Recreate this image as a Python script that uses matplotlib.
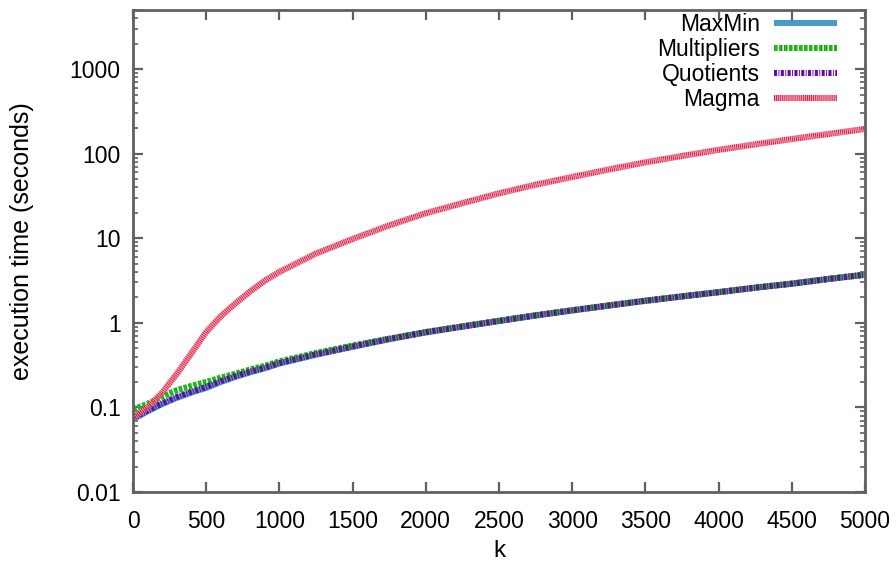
import matplotlib
matplotlib.use("Agg")
import matplotlib.pyplot as plt
from matplotlib.ticker import LogLocator, FixedLocator, NullFormatter

# ---- data ----
k_vals = [0, 100, 200, 300, 400, 500, 600, 700, 800, 900, 1000, 1250, 1500, 1750,
          2000, 2250, 2500, 2750, 3000, 3250, 3500, 3750, 4000, 4250, 4500, 4750, 5000]

maxmin = [0.072, 0.09, 0.11, 0.13, 0.15, 0.17, 0.20, 0.23, 0.26, 0.29, 0.33, 0.42, 0.52, 0.64,
          0.77, 0.90, 1.05, 1.22, 1.40, 1.60, 1.82, 2.05, 2.30, 2.60, 2.90, 3.30, 3.70]
multipliers = [0.095, 0.11, 0.135, 0.16, 0.18, 0.20, 0.225, 0.25, 0.28, 0.31, 0.35, 0.44, 0.54, 0.65,
               0.78, 0.91, 1.06, 1.23, 1.41, 1.61, 1.83, 2.06, 2.31, 2.61, 2.91, 3.31, 3.72]
quotients = [0.075, 0.092, 0.112, 0.133, 0.153, 0.175, 0.205, 0.235, 0.265, 0.295, 0.335, 0.425, 0.525, 0.645,
             0.775, 0.905, 1.055, 1.225, 1.405, 1.605, 1.825, 2.055, 2.305, 2.605, 2.905, 3.305, 3.71]
magma = [0.075, 0.10, 0.15, 0.25, 0.44, 0.78, 1.20, 1.70, 2.35, 3.15, 4.00, 6.6, 9.8, 14.2,
         19.8, 26, 34, 43, 53, 65, 79, 94, 111, 129, 149, 171, 196]

series_labels = ["MaxMin", "Multipliers", "Quotients", "Magma"]
x_ticks = [0, 500, 1000, 1500, 2000, 2500, 3000, 3500, 4000, 4500, 5000]
y_ticks = [0.01, 0.1, 1, 10, 100, 1000]
y_tick_labels = ["0.01", "0.1", "1", "10", "100", "1000"]

# ---- style ----
plt.rcParams['font.family'] = ['Liberation Sans', 'DejaVu Sans']
plt.rcParams['lines.scale_dashes'] = False
FS = 16.5
frame_col = '#606060'

fig = plt.figure(figsize=(8.96, 5.65), dpi=100)
ax = fig.add_axes([133/896, 1 - 492/565, (865 - 133)/896, (492 - 10)/565])

lw = 4.4
ax.plot(k_vals, maxmin, color='#4c9bc7', lw=lw, solid_capstyle='butt', label=series_labels[0])
ax.plot(k_vals, multipliers, color='#1fb51f', lw=lw, dashes=(2.6, 1.0), label=series_labels[1])
ax.plot(k_vals, quotients, color='#650c9a', lw=lw, dashes=(2.2, 1.0, 0.7, 1.0), label=series_labels[2])
ax.plot(k_vals, magma, color='#dc143c', lw=lw, dashes=(0.7, 0.7), gapcolor='#f4a6b8', label=series_labels[3])

ax.set_yscale('log')
ax.set_xlim(0, 5000)
ax.set_ylim(0.01, 5000)

ax.xaxis.set_major_locator(FixedLocator(x_ticks))
ax.set_xticklabels([str(t) for t in x_ticks])
ax.yaxis.set_major_locator(FixedLocator(y_ticks))
ax.set_yticklabels(y_tick_labels)
ax.yaxis.set_minor_locator(LogLocator(base=10, subs=(2, 3, 4, 5, 6, 7, 8, 9)))
ax.yaxis.set_minor_formatter(NullFormatter())

for s in ax.spines.values():
    s.set_color(frame_col)
    s.set_linewidth(2.0)

ax.tick_params(which='both', direction='in', top=True, right=True, color=frame_col,
               labelsize=FS)
ax.tick_params(axis='x', which='major', pad=13)
ax.tick_params(axis='y', which='major', pad=9)
ax.tick_params(which='major', length=7, width=1.6)
ax.tick_params(which='minor', length=3.5, width=1.2)

ax.set_xlabel('k', fontsize=FS + 1)
ax.xaxis.set_label_coords(0.5, -(551 - 492) / 482)
ax.xaxis.label.set_va('center')
ax.set_ylabel('execution time (seconds)', fontsize=FS + 1.5)
ax.yaxis.set_label_coords(-(133 - 22) / 732, (492 - 241) / 482)
ax.yaxis.label.set_va('center')

leg = ax.legend(loc='upper right', frameon=False, markerfirst=False, fontsize=FS,
                handlelength=2.75, handletextpad=0.6, labelspacing=0.08,
                borderaxespad=0.0, borderpad=0.1,
                bbox_to_anchor=(1 - 26/732, 1 - 1/482))

fig.savefig('out.png', dpi=100)
